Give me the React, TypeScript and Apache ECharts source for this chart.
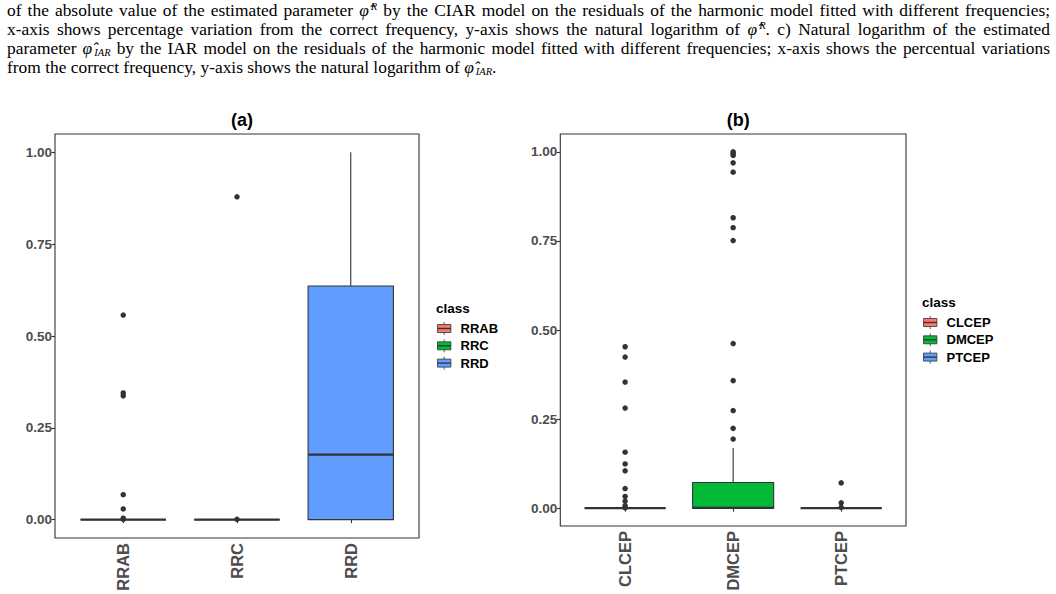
import React, { useEffect, useRef } from "react";
import * as echarts from "echarts";

const classesA = ["RRAB", "RRC", "RRD"];
const classesB = ["CLCEP", "DMCEP", "PTCEP"];
const classColors = ["#F8766D", "#00BA38", "#619CFF"];
// [min, Q1, median, Q3, max]
const statsA = [
  [0, 0, 0, 0, 0],
  [0, 0, 0, 0, 0],
  [0, 0, 0.177, 0.636, 1.0],
];
const statsB = [
  [0, 0, 0, 0, 0],
  [0, 0, 0.001, 0.072, 0.169],
  [0, 0, 0, 0, 0],
];
const outliersRRAB = [0.557, 0.345, 0.337, 0.068, 0.029, 0.004, 0.001];
const outliersRRC = [0.879, 0.001];
const outliersRRD: number[] = [];
const outliersCLCEP = [0.453, 0.424, 0.354, 0.281, 0.157, 0.124, 0.105, 0.055, 0.033, 0.02, 0.007, 0.001];
const outliersDMCEP = [1.0, 0.996, 0.99, 0.969, 0.943, 0.815, 0.787, 0.751, 0.462, 0.358, 0.274, 0.224, 0.194];
const outliersPTCEP = [0.071, 0.015, 0.002];
const yTicks = [0, 0.25, 0.5, 0.75, 1.0];
const titles = ["(a)", "(b)"];
const legendTitle = "class";

const FONT = "Liberation Sans, Arial, Helvetica, sans-serif";
const SERIF = "'Liberation Serif', 'Times New Roman', serif";
const DARK = "#333333";
const GREY = "#4D4D4D";

// layout
const panels = [
  { left: 55, right: 419, top: 134, bottom: 538, legendX: 436, legendY: 308 },
  { left: 560.3, right: 906, top: 134, bottom: 526, legendX: 922, legendY: 302 },
];

function boxRender(params: any, api: any) {
  const x = api.value(0);
  const lo = api.coord([x, api.value(1)]);
  const q1 = api.coord([x, api.value(2)]);
  const med = api.coord([x, api.value(3)]);
  const q3 = api.coord([x, api.value(4)]);
  const hi = api.coord([x, api.value(5)]);
  const bw = api.size([1, 0])[0] * 0.75;
  const cx = lo[0];
  const color = classColors[params.dataIndex];
  return {
    type: "group",
    children: [
      { type: "line", shape: { x1: cx, y1: q3[1], x2: cx, y2: hi[1] }, style: { stroke: DARK, lineWidth: 1.1 } },
      { type: "line", shape: { x1: cx, y1: lo[1], x2: cx, y2: q1[1] }, style: { stroke: DARK, lineWidth: 1.1 } },
      {
        type: "rect",
        shape: { x: cx - bw / 2, y: q3[1], width: bw, height: q1[1] - q3[1] },
        style: { fill: color, stroke: DARK, lineWidth: 1.1 },
      },
      {
        type: "line",
        shape: { x1: cx - bw / 2, y1: med[1], x2: cx + bw / 2, y2: med[1] },
        style: { stroke: DARK, lineWidth: 2.2 },
      },
    ],
  };
}

function legendGraphic(p: any, names: string[]) {
  const children: any[] = [
    {
      type: "text",
      x: p.legendX,
      y: p.legendY,
      style: { text: legendTitle, font: `bold 13.5px ${FONT}`, fill: "#000", textVerticalAlign: "middle" },
    },
  ];
  names.forEach((n, i) => {
    const cy = p.legendY + 20.5 + i * 17.3;
    const kx = p.legendX + 1.5;
    children.push(
      { type: "line", shape: { x1: kx + 6.7, y1: cy - 6.5, x2: kx + 6.7, y2: cy + 6.5 }, style: { stroke: DARK, lineWidth: 0.8 } },
      { type: "rect", shape: { x: kx, y: cy - 4, width: 13.4, height: 8 }, style: { fill: classColors[i], stroke: DARK, lineWidth: 0.8 } },
      { type: "line", shape: { x1: kx, y1: cy, x2: kx + 13.4, y2: cy }, style: { stroke: DARK, lineWidth: 1.3 } },
      {
        type: "text",
        x: kx + 23,
        y: cy,
        style: { text: n, font: `bold 13px ${FONT}`, fill: "#000", textVerticalAlign: "middle" },
      }
    );
  });
  return { type: "group", children };
}

function Sup({ children, sub }: { children: any; sub?: boolean }) {
  return (
    <span
      style={{
        position: "relative",
        top: sub ? 2 : -6,
        marginLeft: 2,
        fontSize: 10.5,
        fontStyle: "italic",
        lineHeight: 0,
        verticalAlign: "baseline",
      }}
    >
      {children}
    </span>
  );
}

function App() {
  const ref = useRef<HTMLDivElement>(null);
  useEffect(() => {
    if (!ref.current) return;
    const chart = echarts.init(ref.current, null, { renderer: "svg" });
    const classSets = [classesA, classesB];
    const statSets = [statsA, statsB];
    const outlierSets = [
      [outliersRRAB, outliersRRC, outliersRRD],
      [outliersCLCEP, outliersDMCEP, outliersPTCEP],
    ];
    const grids = panels.map((p) => {
      const w = p.right - p.left;
      const unit = w / 3.2;
      const gl = p.left + 0.1 * unit;
      return { left: gl, top: p.top, width: unit * 3, height: p.bottom - p.top };
    });
    const option: any = {
      animation: false,
      backgroundColor: "#ffffff",
      title: panels.map((p, i) => ({
        text: titles[i],
        left: (p.left + p.right) / 2,
        top: 106,
        textAlign: "center",
        textStyle: { fontFamily: FONT, fontWeight: "bold", fontSize: 18, color: "#000" },
      })),
      grid: grids,
      xAxis: panels.map((p, i) => ({
        type: "category",
        gridIndex: i,
        data: classSets[i],
        boundaryGap: true,
        axisLine: { show: false },
        axisTick: { show: true, alignWithLabel: true, length: 3.5, lineStyle: { color: DARK, width: 1.1 } },
        axisLabel: {
          rotate: 90,
          margin: 5,
          fontFamily: FONT,
          fontWeight: "bold",
          fontSize: 16.5,
          color: GREY,
        },
        splitLine: { show: false },
      })),
      yAxis: panels.map((p, i) => ({
        type: "value",
        gridIndex: i,
        min: -0.05,
        max: 1.05,
        offset: grids[i].left - p.left,
        axisLine: { show: false },
        axisTick: { show: true, customValues: yTicks, length: 3.5, lineStyle: { color: DARK, width: 1.1 } },
        axisLabel: {
          customValues: yTicks,
          formatter: (v: number) => v.toFixed(2),
          margin: 3,
          fontFamily: FONT,
          fontWeight: "bold",
          fontSize: 13.5,
          color: GREY,
        },
        splitLine: { show: false },
      })),
      series: [
        ...panels.map((p, i) => ({
          type: "custom",
          xAxisIndex: i,
          yAxisIndex: i,
          renderItem: boxRender,
          encode: { x: 0, y: [1, 2, 3, 4, 5] },
          data: statSets[i].map((s, k) => [k, ...s]),
          z: 2,
        })),
        ...panels.map((p, i) => ({
          type: "scatter",
          xAxisIndex: i,
          yAxisIndex: i,
          symbolSize: 5.5,
          itemStyle: { color: DARK, opacity: 1 },
          data: outlierSets[i].flatMap((arr, k) => arr.map((v) => [k, v])),
          z: 3,
        })),
      ],
      graphic: [
        ...panels.map((p) => ({
          type: "rect",
          shape: { x: p.left, y: p.top, width: p.right - p.left, height: p.bottom - p.top },
          style: { fill: "none", stroke: DARK, lineWidth: 1.1 },
          z: 1,
        })),
        legendGraphic(panels[0], classesA),
        legendGraphic(panels[1], classesB),
      ],
    };
    chart.setOption(option);
    return () => chart.dispose();
  }, []);

  const phi = <i style={{ fontFamily: SERIF }}>{"\u03C6\u0302"}</i>;
  const lineStyle: React.CSSProperties = {
    height: 19,
    lineHeight: "19px",
    whiteSpace: "nowrap",
    textAlign: "justify",
    textAlignLast: "justify" as any,
  };
  return (
    <div style={{ position: "fixed", left: 0, top: 0, width: 1056, height: 594, background: "#fff" }}>
      <div ref={ref} style={{ position: "absolute", left: 0, top: 0, width: 1056, height: 594 }} />
      <div
        style={{
          position: "absolute",
          left: 7,
          top: 1,
          width: 1043,
          fontFamily: SERIF,
          fontSize: 17.4,
          color: "#000",
        }}
      >
        <div style={lineStyle}>
          of the absolute value of the estimated parameter {phi}
          <Sup>R</Sup> by the CIAR model on the residuals of the harmonic model fitted with different frequencies;
        </div>
        <div style={lineStyle}>
          x-axis shows percentage variation from the correct frequency, y-axis shows the natural logarithm of {phi}
          <Sup>R</Sup>. c) Natural logarithm of the estimated
        </div>
        <div style={lineStyle}>
          parameter {phi}
          <Sup sub>IAR</Sup> by the IAR model on the residuals of the harmonic model fitted with different frequencies; x-axis shows the percentual variations
        </div>
        <div style={{ ...lineStyle, textAlign: "left", textAlignLast: "left" as any }}>
          from the correct frequency, y-axis shows the natural logarithm of {phi}
          <Sup sub>IAR</Sup>.
        </div>
      </div>
    </div>
  );
}

export default App;
